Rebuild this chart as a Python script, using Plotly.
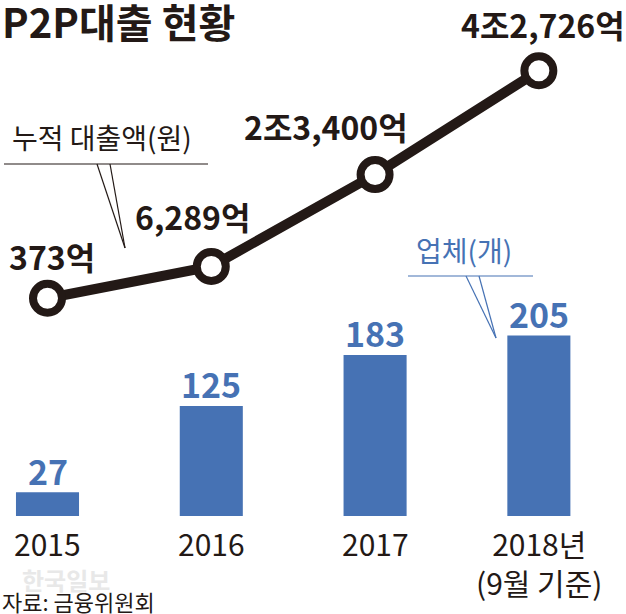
import plotly.graph_objects as go

# data
years = ["2015", "2016", "2017", "2018"]
year_labels = ["2015", "2016", "2017", "2018년<br>(9월 기준)"]
loans = [373, 6289, 23400, 42726]          # 누적 대출액 (억원)
loan_labels = ["373억", "6,289억", "2조3,400억", "4조2,726억"]
firms = [27, 125, 183, 205]                # 업체 수 (개)

W, H = 626, 614
BLUE = "#4672b4"
INK = "#231916"
FONT = "Noto Sans CJK KR"

# label offsets (pixels) relative to each line point
loan_dx = [4, -19, -49, 4]
loan_dy = [42, 50, 49, 47]


def px(x, y):
    # pixel -> paper coordinates
    return x / W, 1 - y / H


fig = go.Figure()

fig.add_trace(go.Bar(x=years, y=firms, width=0.385, marker=dict(color=BLUE, line=dict(width=0)),
                     yaxis="y", showlegend=False, hoverinfo="skip"))

fig.add_trace(go.Scatter(x=years, y=loans, yaxis="y2", mode="lines+markers",
                         line=dict(color=INK, width=10),
                         marker=dict(size=29, color="white", line=dict(color=INK, width=8)),
                         showlegend=False, hoverinfo="skip"))

annotations = []

# bar values
for i, v in enumerate(firms):
    annotations.append(dict(x=i, y=v, xref="x", yref="y", text=str(v), showarrow=False,
                            yanchor="middle", yshift=22,
                            font=dict(family=FONT, size=34, color=BLUE, weight="bold")))

# loan values
for i, (v, t, dx, dy) in enumerate(zip(loans, loan_labels, loan_dx, loan_dy)):
    annotations.append(dict(x=i, y=v, xref="x", yref="y2", text=t, showarrow=False,
                            yanchor="middle", xshift=dx, yshift=dy,
                            font=dict(family=FONT, size=32, color=INK, weight="bold")))

# x labels
for i, t in enumerate(year_labels):
    annotations.append(dict(x=i, y=0, xref="x", yref="y", text=t, showarrow=False,
                            yanchor="top", yshift=-3,
                            font=dict(family=FONT, size=30, color=INK)))

# title
x0, y0 = px(0, 21)
annotations.append(dict(x=x0, y=y0, xref="paper", yref="paper", text="P2P대출 현황",
                        showarrow=False, xanchor="left", yanchor="middle",
                        font=dict(family=FONT, size=40, color=INK, weight="bold")))

# callout texts
x0, y0 = px(102, 137)
annotations.append(dict(x=x0, y=y0, xref="paper", yref="paper", text="누적 대출액(원)",
                        showarrow=False, xanchor="center", yanchor="middle",
                        font=dict(family=FONT, size=28, color=INK)))
x0, y0 = px(464, 250)
annotations.append(dict(x=x0, y=y0, xref="paper", yref="paper", text="업체(개)",
                        showarrow=False, xanchor="center", yanchor="middle",
                        font=dict(family=FONT, size=28, color=BLUE)))

# watermark and source
x0, y0 = px(20, 579)
annotations.append(dict(x=x0, y=y0, xref="paper", yref="paper", text="한국일보",
                        showarrow=False, xanchor="left", yanchor="middle",
                        font=dict(family=FONT, size=24, color="#e8e8e8", weight="bold")))
x0, y0 = px(0, 601)
annotations.append(dict(x=x0, y=y0, xref="paper", yref="paper", text="자료: 금융위원회",
                        showarrow=False, xanchor="left", yanchor="middle",
                        font=dict(family=FONT, size=22, color=INK)))

# callout pointer lines
shapes = []


def seg(xa, ya, xb, yb, color):
    a = px(xa, ya)
    b = px(xb, yb)
    shapes.append(dict(type="line", xref="paper", yref="paper", x0=a[0], y0=a[1], x1=b[0], y1=b[1],
                       line=dict(color=color, width=1.2)))


seg(4, 164, 208, 164, INK)
seg(97, 164, 125, 248, INK)
seg(110, 164, 125, 248, INK)
seg(408, 276, 533, 276, BLUE)
seg(466, 276, 496, 338, BLUE)
seg(479, 276, 496, 338, BLUE)

fig.update_layout(
    width=W, height=H,
    margin=dict(l=0, r=0, t=0, b=0),
    paper_bgcolor="white", plot_bgcolor="white",
    xaxis=dict(type="category", range=[-0.29, 3.532], visible=False, fixedrange=True),
    yaxis=dict(range=[-111.4, 586.4], visible=False, fixedrange=True),
    yaxis2=dict(range=[-58405, 55892], overlaying="y", visible=False, fixedrange=True),
    annotations=annotations,
    shapes=shapes,
    font=dict(family=FONT),
)

# drop the default page margin so the figure fills the window
fig.write_html("out.html", config={"displayModeBar": False},
               post_script="document.body.style.margin='0px';")
